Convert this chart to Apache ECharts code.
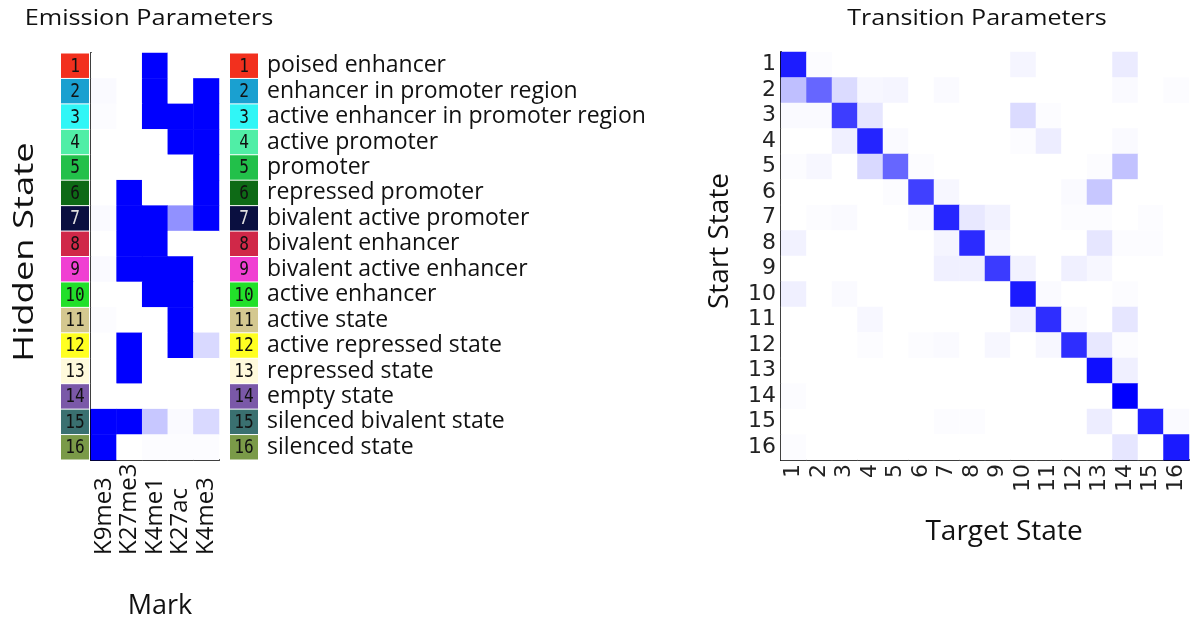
<!DOCTYPE html>
<html>
<head>
<meta charset="utf-8">
<script src="https://cdn.jsdelivr.net/npm/echarts@6/dist/echarts.min.js"></script>
<style>html,body{margin:0;padding:0;background:#fff}#c{width:1200px;height:621px}</style>
</head>
<body>
<div id="c"></div>
<script>
const states = ['1','2','3','4','5','6','7','8','9','10','11','12','13','14','15','16'];
const stateNames = ['poised enhancer','enhancer in promoter region','active enhancer in promoter region','active promoter','promoter','repressed promoter','bivalent active promoter','bivalent enhancer','bivalent active enhancer','active enhancer','active state','active repressed state','repressed state','empty state','silenced bivalent state','silenced state'];
const stateColors = ['#f2301e','#1aa0d0','#30f6f6','#50eea6','#22c04a','#0e6a16','#0a0f40','#d02848','#f040d2','#22e02a','#d4c890','#ffff22','#fffadc','#7a58a8','#3a7070','#7a9a48'];
const stateTextColors = ['#111','#111','#111','#111','#111','#111','#e0e0e0','#111','#111','#111','#111','#111','#111','#111','#111','#111'];
const marks = ['K9me3','K27me3','K4me1','K27ac','K4me3'];
const emission = [
  [0,0,1,0,0],
  [0.02,0,1,0,1],
  [0.01,0,1,1,1],
  [0,0,0,1,1],
  [0,0,0,0,1],
  [0,1,0,0,1],
  [0.02,1,1,0.43,1],
  [0,1,1,0,0],
  [0.02,1,1,1,0],
  [0,0,1,1,0],
  [0.01,0,0,1,0],
  [0,1,0,1,0.15],
  [0,1,0,0,0],
  [0,0,0,0,0],
  [1,1,0.22,0.02,0.15],
  [1,0,0.01,0.01,0.01]
];
const transition = [
  [0.89,0.01,0,0,0,0,0,0,0,0.04,0,0,0,0.08,0,0],
  [0.25,0.6,0.14,0.03,0.04,0,0.02,0,0,0,0,0,0,0.02,0,0.01],
  [0.02,0.02,0.76,0.1,0,0,0,0,0,0.14,0.01,0,0,0,0,0],
  [0,0,0.06,0.86,0.02,0,0,0,0,0.01,0.07,0,0,0.02,0,0],
  [0.01,0.03,0,0.15,0.6,0.01,0,0,0,0,0,0,0.01,0.24,0,0],
  [0,0,0,0,0.01,0.75,0.03,0,0,0,0,0.02,0.22,0,0,0],
  [0,0.01,0.02,0,0,0.02,0.85,0.09,0.05,0,0,0.01,0.01,0,0.01,0],
  [0.05,0,0,0,0,0,0.04,0.83,0.03,0,0,0,0.1,0.01,0.01,0],
  [0,0,0,0,0,0,0.06,0.06,0.77,0.05,0,0.06,0.03,0,0,0],
  [0.06,0,0.02,0,0,0,0,0,0,0.9,0.02,0,0,0.01,0,0],
  [0,0,0,0.03,0,0,0,0,0,0.05,0.82,0.02,0,0.1,0,0],
  [0,0,0,0.01,0,0.01,0.02,0,0.03,0,0.03,0.82,0.09,0.01,0,0],
  [0,0,0,0,0,0,0,0,0,0,0,0,0.94,0.06,0,0],
  [0.01,0,0,0,0,0,0,0,0,0,0,0,0,1.0,0,0],
  [0,0,0,0,0,0,0.01,0.01,0,0,0,0,0.07,0,0.88,0.02],
  [0.01,0,0,0,0,0,0,0,0,0,0,0,0,0.1,0,0.9]
];

const emissionData = [];
emission.forEach((row, i) => row.forEach((v, j) => emissionData.push([j, i, v])));
const transitionData = [];
transition.forEach((row, i) => row.forEach((v, j) => transitionData.push([j, i, v])));
const boxData = states.map((s, i) => [0, i]);

function boxRender(params, api) {
  const i = api.value(1);
  const p = api.coord([0, i]);
  const s = api.size([1, 1]);
  return {
    type: 'group',
    children: [
      { type: 'rect', shape: { x: p[0] - s[0] / 2, y: p[1] - s[1] / 2 + 0.5, width: s[0], height: s[1] - 1 },
        style: { fill: stateColors[i] } },
      { type: 'text', x: p[0], y: p[1] + 1, scaleX: 0.85,
        style: { text: states[i], font: '19px "DejaVu Sans Mono"', fill: stateTextColors[i],
                 align: 'center', verticalAlign: 'middle', textAlign: 'center', textVerticalAlign: 'middle' } }
    ]
  };
}

const blackLine = { show: true, lineStyle: { color: '#000', width: 2 } };
const chart = echarts.init(document.getElementById('c'), null, { renderer: 'canvas' });
chart.setOption({
  animation: false,
  backgroundColor: '#fff',
  grid: [
    { left: 91, top: 53, width: 128, height: 407 },
    { left: 61, top: 53, width: 28, height: 407 },
    { left: 230, top: 53, width: 28, height: 407 },
    { left: 781, top: 52, width: 408, height: 408 }
  ],
  xAxis: [
    { gridIndex: 0, type: 'category', data: marks, axisLine: blackLine, axisTick: { show: false }, splitLine: { show: false },
      axisLabel: { rotate: 90, interval: 0, align: 'left', verticalAlign: 'middle', margin: 95, fontFamily: 'Open Sans', fontSize: 24, color: '#111' } },
    { gridIndex: 1, type: 'category', data: ['s'], show: false },
    { gridIndex: 2, type: 'category', data: ['s'], show: false },
    { gridIndex: 3, type: 'category', data: states, axisLine: blackLine, axisTick: { show: false }, splitLine: { show: false },
      axisLabel: { rotate: 90, margin: 4, fontFamily: 'DejaVu Sans', fontSize: 22, color: '#222', interval: 0 } }
  ],
  yAxis: [
    { gridIndex: 0, type: 'category', data: states, inverse: true, axisLine: blackLine, axisTick: { show: false },
      axisLabel: { show: false }, splitLine: { show: false } },
    { gridIndex: 1, type: 'category', data: states, inverse: true, show: false },
    { gridIndex: 2, type: 'category', data: stateNames, inverse: true, position: 'right',
      axisLine: { show: false }, axisTick: { show: false }, splitLine: { show: false },
      axisLabel: { margin: 9, fontFamily: 'Open Sans', fontSize: 23, color: '#111', interval: 0 } },
    { gridIndex: 3, type: 'category', data: states, inverse: true, axisLine: blackLine, axisTick: { show: false }, splitLine: { show: false },
      axisLabel: { margin: 5, fontFamily: 'DejaVu Sans', fontSize: 22, color: '#222', interval: 0 } }
  ],
  visualMap: {
    show: false, type: 'continuous', min: 0, max: 1, seriesIndex: [0, 1], dimension: 2,
    inRange: { color: ['#ffffff', '#0000ff'] }
  },
  series: [
    { type: 'heatmap', xAxisIndex: 0, yAxisIndex: 0, data: emissionData, itemStyle: { borderWidth: 0 }, emphasis: { disabled: true } },
    { type: 'heatmap', xAxisIndex: 3, yAxisIndex: 3, data: transitionData, itemStyle: { borderWidth: 0 }, emphasis: { disabled: true } },
    { type: 'custom', xAxisIndex: 1, yAxisIndex: 1, data: boxData, renderItem: boxRender, silent: true },
    { type: 'custom', xAxisIndex: 2, yAxisIndex: 2, data: boxData, renderItem: boxRender, silent: true }
  ],
  graphic: [
    { type: 'text', x: 149, y: 19, scaleX: 1.15, style: { text: 'Emission Parameters', font: '22px "Open Sans"', fill: '#111', align: 'center', verticalAlign: 'middle', textAlign: 'center', textVerticalAlign: 'middle' } },
    { type: 'text', x: 977, y: 19, scaleX: 1.14, style: { text: 'Transition Parameters', font: '22px "Open Sans"', fill: '#111', align: 'center', verticalAlign: 'middle', textAlign: 'center', textVerticalAlign: 'middle' } },
    { type: 'text', x: 25, y: 252, rotation: Math.PI / 2, scaleX: 1.3, style: { text: 'Hidden State', font: '28px "Open Sans"', fill: '#111', align: 'center', verticalAlign: 'middle', textAlign: 'center', textVerticalAlign: 'middle' } },
    { type: 'text', x: 720, y: 241, rotation: Math.PI / 2, style: { text: 'Start State', font: '28px "Open Sans"', fill: '#111', align: 'center', verticalAlign: 'middle', textAlign: 'center', textVerticalAlign: 'middle' } },
    { type: 'text', x: 160, y: 606, style: { text: 'Mark', font: '27px "Open Sans"', fill: '#111', align: 'center', verticalAlign: 'middle', textAlign: 'center', textVerticalAlign: 'middle' } },
    { type: 'text', x: 1004, y: 532, style: { text: 'Target State', font: '28px "Open Sans"', fill: '#111', align: 'center', verticalAlign: 'middle', textAlign: 'center', textVerticalAlign: 'middle' } }
  ]
});
</script>
</body>
</html>
